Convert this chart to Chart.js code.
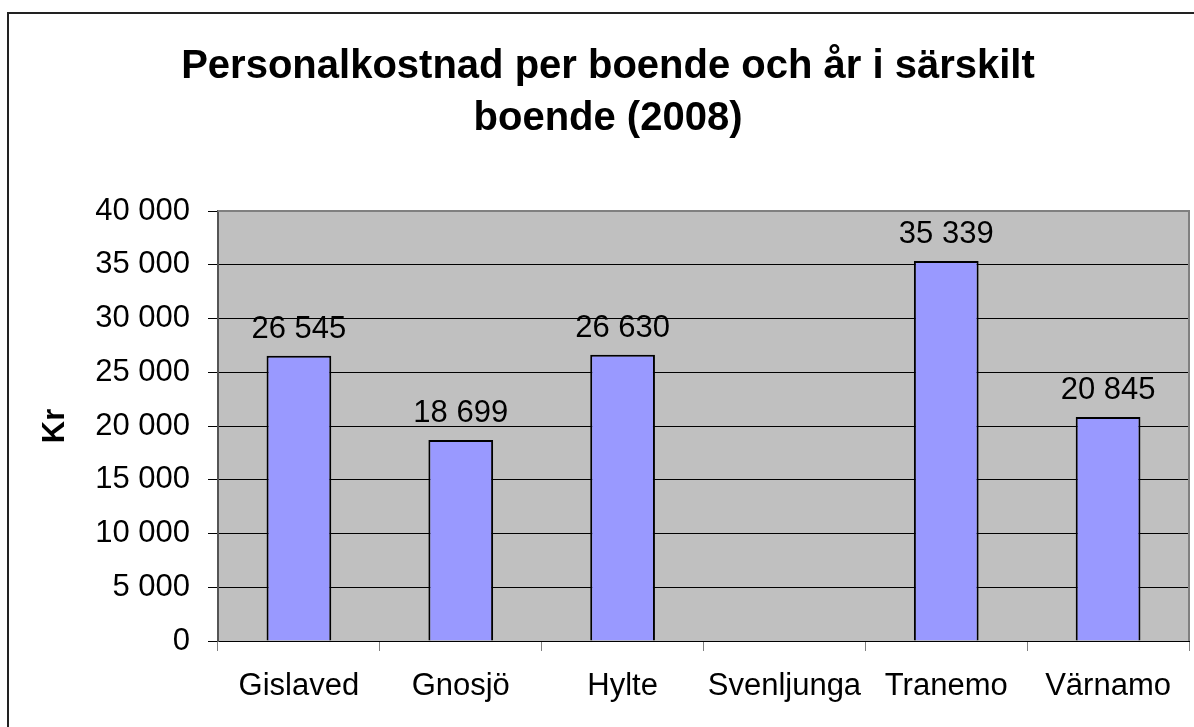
<!DOCTYPE html>
<html>
<head>
<meta charset="utf-8">
<script src="https://cdn.jsdelivr.net/npm/chart.js@4.4.1/dist/chart.umd.min.js"></script>
<style>
html,body{margin:0;padding:0;background:#fff;}
#wrap{width:1194px;height:727px;position:relative;}
</style>
</head>
<body>
<div id="wrap"><canvas id="c" width="1194" height="727"></canvas></div>
<script>
const titleLines = ['Personalkostnad per boende och år i särskilt', 'boende (2008)'];
const categories = ['Gislaved', 'Gnosjö', 'Hylte', 'Svenljunga', 'Tranemo', 'Värnamo'];
const values = [26545, 18699, 26630, null, 35339, 20845];
const yTitle = 'Kr';
const yMin = 0, yMax = 40000, yStep = 5000;

const FONT = "'Liberation Sans', Arial, sans-serif";
function fmt(v){ return String(Math.round(v)).replace(/\B(?=(\d{3})+(?!\d))/g, ' '); }

const frame = {
  id: 'frame',
  beforeDraw(chart){
    const ctx = chart.ctx, a = chart.chartArea;
    ctx.save();
    ctx.fillStyle = '#fff';
    ctx.fillRect(0,0,chart.width,chart.height);
    ctx.strokeStyle = '#222';
    ctx.lineWidth = 2;
    ctx.strokeRect(8, 13, 1400, 1000);
    ctx.fillStyle = '#C0C0C0';
    ctx.fillRect(a.left, a.top, a.right - a.left, a.bottom - a.top);
    ctx.restore();
  },
  afterDraw(chart){
    const ctx = chart.ctx, a = chart.chartArea;
    ctx.save();
    ctx.strokeStyle = '#808080';
    ctx.lineWidth = 2;
    ctx.beginPath();
    ctx.moveTo(a.left, a.top);
    ctx.lineTo(a.right, a.top);
    ctx.lineTo(a.right, a.bottom);
    ctx.stroke();
    ctx.restore();
  }
};

const valueLabels = {
  id: 'valueLabels',
  afterDatasetsDraw(chart){
    const ctx = chart.ctx;
    const meta = chart.getDatasetMeta(0);
    ctx.save();
    ctx.font = '31px ' + FONT;
    ctx.fillStyle = '#000';
    ctx.textAlign = 'center';
    ctx.textBaseline = 'alphabetic';
    meta.data.forEach((el, i) => {
      const v = values[i];
      if (v === null || v === undefined) return;
      ctx.fillText(fmt(v), el.x, el.y - 18);
    });
    ctx.restore();
  }
};

new Chart(document.getElementById('c'), {
  type: 'bar',
  data: {
    labels: categories,
    datasets: [{
      data: values,
      backgroundColor: '#9999FF',
      borderColor: '#000',
      borderWidth: 2,
      barPercentage: 0.4,
      categoryPercentage: 1.0
    }]
  },
  options: {
    responsive: false,
    animation: false,
    devicePixelRatio: 1,
    layout: { padding: { left: 27, right: 5, top: 0, bottom: 0 } },
    plugins: {
      legend: { display: false },
      tooltip: { enabled: false },
      title: {
        display: true,
        text: titleLines,
        color: '#000',
        font: { family: FONT, size: 40, weight: 'bold', lineHeight: 1.3 },
        padding: { top: 41, bottom: 66 }
      }
    },
    scales: {
      x: {
        afterFit(s){ s.height = 86; },
        grid: { offset: true, drawOnChartArea: false, drawTicks: true, tickLength: 10, color: '#808080', lineWidth: 1 },
        border: { display: true, color: '#000', width: 1 },
        ticks: { color: '#000', font: { family: FONT, size: 31 }, padding: 17, maxRotation: 0, autoSkip: false }
      },
      y: {
        min: yMin, max: yMax,
        afterFit(s){ s.width = 191; },
        grid: { color: '#000', lineWidth: 1, tickLength: 10, drawTicks: true },
        border: { display: true, color: '#555', width: 2 },
        ticks: { stepSize: yStep, color: '#000', font: { family: FONT, size: 31 }, padding: 18, callback: v => fmt(v) },
        title: { display: true, text: yTitle, color: '#000', font: { family: FONT, size: 31, weight: 'bold', lineHeight: 1.2 }, padding: { top: 10, bottom: 0 } }
      }
    }
  },
  plugins: [frame, valueLabels]
});
</script>
</body>
</html>
